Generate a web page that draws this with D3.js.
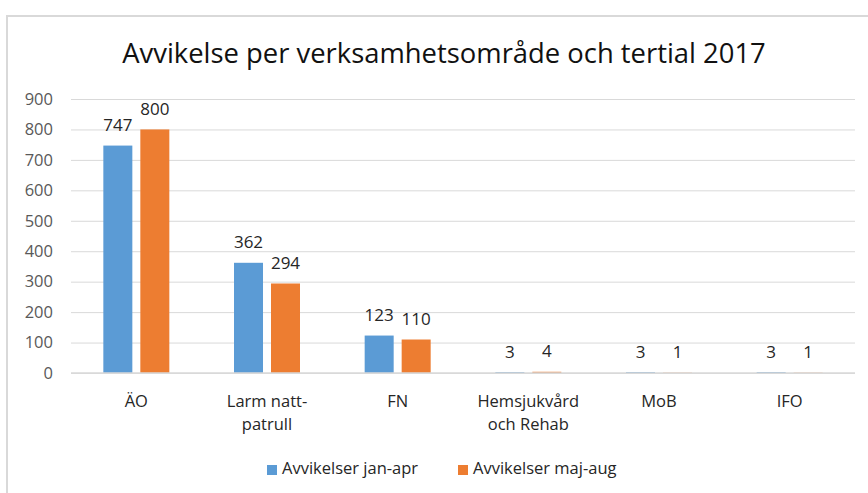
<!DOCTYPE html>
<html>
<head>
<meta charset="utf-8">
<script src="https://cdn.jsdelivr.net/npm/d3@7"></script>
<style>
  html, body { margin: 0; padding: 0; background: #fff; }
  svg { display: block; }
  text { font-family: "Open Sans", "Noto Sans", sans-serif; }
</style>
</head>
<body>
<svg id="chart" width="868" height="493"></svg>
<script>
const title = "Avvikelse per verksamhetsområde och tertial 2017";
const categories = ["ÄO", "Larm natt-\npatrull", "FN", "Hemsjukvård\noch Rehab", "MoB", "IFO"];
const seriesNames = ["Avvikelser jan-apr", "Avvikelser maj-aug"];
const janApr = [747, 362, 123, 3, 3, 3];
const majAug = [800, 294, 110, 4, 1, 1];
const yTicks = [0, 100, 200, 300, 400, 500, 600, 700, 800, 900];
const colors = ["#5b9bd5", "#ed7d31"];

const svg = d3.select("#chart");
const W = 868, H = 493;
svg.append("rect").attr("width", W).attr("height", H).attr("fill", "#fff");

// chart border
svg.append("rect")
  .attr("x", 7).attr("y", 16)
  .attr("width", 880).attr("height", 500)
  .attr("fill", "none").attr("stroke", "#d9d9d9").attr("stroke-width", 2);

const plot = { left: 71, right: 855, top: 99, bottom: 373 };

const x0 = d3.scaleBand().domain(categories).range([plot.left, plot.right]).padding(0);
const barGroupW = 66;
const x1 = d3.scaleBand().domain(seriesNames).range([-barGroupW / 2, barGroupW / 2]).paddingInner(0.216);
const y = d3.scaleLinear().domain([0, 900]).range([plot.bottom, plot.top]);

// gridlines
const yAxis = d3.axisLeft(y).tickValues(yTicks).tickSize(-(plot.right - plot.left)).tickPadding(18);
const gy = svg.append("g").attr("transform", `translate(${plot.left},0)`).call(yAxis);
gy.select(".domain").remove();
gy.selectAll(".tick line").attr("stroke", "#d9d9d9").attr("stroke-width", 1);
gy.selectAll(".tick text")
  .attr("fill", "#595959")
  .style("font-size", "16.5px")
  .style("font-family", "'Open Sans', sans-serif");

// bars
const series = [janApr, majAug];
const data = [];
categories.forEach((c, i) => {
  seriesNames.forEach((s, j) => {
    data.push({ cat: c, series: s, value: series[j][i], color: colors[j] });
  });
});

svg.append("g").selectAll("rect").data(data).join("rect")
  .attr("x", d => x0(d.cat) + x0.bandwidth() / 2 + x1(d.series))
  .attr("y", d => y(d.value))
  .attr("width", x1.bandwidth())
  .attr("height", d => y(0) - y(d.value))
  .attr("fill", d => d.color);

// baseline (zero gridline) drawn over the bars
svg.append("line")
  .attr("x1", plot.left).attr("x2", plot.right)
  .attr("y1", y(0)).attr("y2", y(0))
  .attr("stroke", "#d9d9d9").attr("stroke-width", 1.5);

// value labels
svg.append("g").selectAll("text").data(data).join("text")
  .attr("x", d => x0(d.cat) + x0.bandwidth() / 2 + x1(d.series) + x1.bandwidth() / 2)
  .attr("y", d => y(d.value) - 14.5)
  .attr("text-anchor", "middle")
  .attr("fill", "#262626")
  .style("font-size", "17px")
  .text(d => d.value);

// category labels
const catG = svg.append("g");
categories.forEach(c => {
  const lines = c.split("\n");
  const t = catG.append("text")
    .attr("x", x0(c) + x0.bandwidth() / 2)
    .attr("y", 407)
    .attr("text-anchor", "middle")
    .attr("fill", "#262626")
    .style("font-size", "16.5px");
  lines.forEach((l, k) => {
    t.append("tspan")
      .attr("x", x0(c) + x0.bandwidth() / 2)
      .attr("dy", k === 0 ? 0 : 23)
      .text(l);
  });
});

// title
svg.append("text")
  .attr("x", 444).attr("y", 63)
  .attr("text-anchor", "middle")
  .attr("fill", "#111")
  .style("font-size", "27.4px")
  .text(title);

// legend
const legendX = [267, 458];
const lg = svg.append("g");
seriesNames.forEach((s, j) => {
  lg.append("rect")
    .attr("x", legendX[j]).attr("y", 465)
    .attr("width", 10).attr("height", 10)
    .attr("fill", colors[j]);
  lg.append("text")
    .attr("x", legendX[j] + 15).attr("y", 474)
    .attr("fill", "#262626")
    .style("font-size", "16.5px")
    .text(s);
});
</script>
</body>
</html>
